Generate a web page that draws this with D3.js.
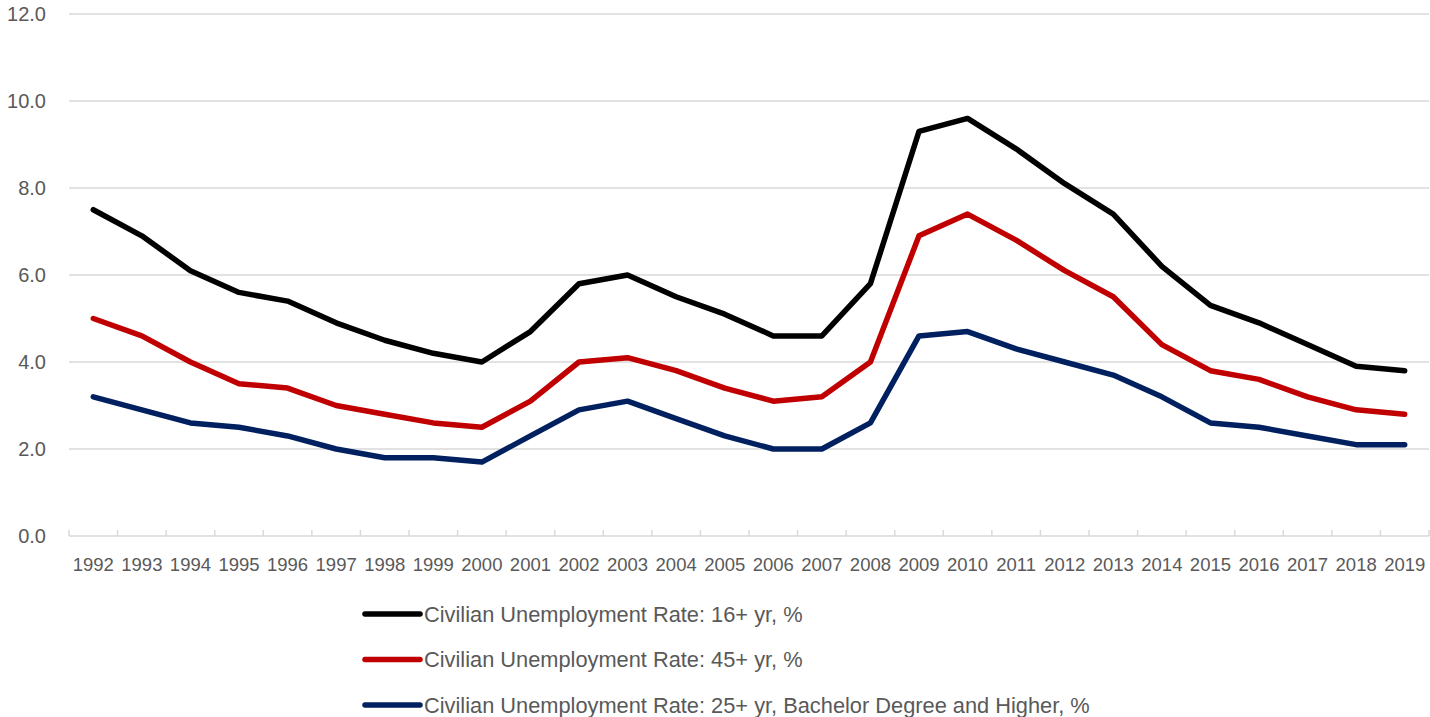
<!DOCTYPE html>
<html>
<head>
<meta charset="utf-8">
<script src="https://cdn.jsdelivr.net/npm/d3@7"></script>
<style>
  body { margin: 0; background: #fff; }
  text { font-family: "Liberation Sans", Arial, sans-serif; fill: #595959; }
</style>
</head>
<body>
<div id="chart"></div>
<script>
// Unemployment rates, 1992-2019
var years = ["1992","1993","1994","1995","1996","1997","1998","1999","2000","2001",
  "2002","2003","2004","2005","2006","2007","2008","2009","2010","2011",
  "2012","2013","2014","2015","2016","2017","2018","2019"];

var rate16 = [7.5, 6.9, 6.1, 5.6, 5.4, 4.9, 4.5, 4.2, 4.0, 4.7,
  5.8, 6.0, 5.5, 5.1, 4.6, 4.6, 5.8, 9.3, 9.6, 8.9,
  8.1, 7.4, 6.2, 5.3, 4.9, 4.4, 3.9, 3.8];

var rate45 = [5.0, 4.6, 4.0, 3.5, 3.4, 3.0, 2.8, 2.6, 2.5, 3.1,
  4.0, 4.1, 3.8, 3.4, 3.1, 3.2, 4.0, 6.9, 7.4, 6.8,
  6.1, 5.5, 4.4, 3.8, 3.6, 3.2, 2.9, 2.8];

var rateBach = [3.2, 2.9, 2.6, 2.5, 2.3, 2.0, 1.8, 1.8, 1.7, 2.3,
  2.9, 3.1, 2.7, 2.3, 2.0, 2.0, 2.6, 4.6, 4.7, 4.3,
  4.0, 3.7, 3.2, 2.6, 2.5, 2.3, 2.1, 2.1];

var seriesNames = ["Civilian Unemployment Rate: 16+ yr, %",
  "Civilian Unemployment Rate: 45+ yr, %",
  "Civilian Unemployment Rate: 25+ yr, Bachelor Degree and Higher, %"];
var seriesColors = ["#000000", "#c00000", "#002060"];
var yTicks = [0, 2, 4, 6, 8, 10, 12];

var W = 1430, H = 717;
var margin = { top: 14, right: 1, bottom: 181, left: 69 },
    width = W - margin.left - margin.right,
    height = H - margin.top - margin.bottom;

var svg = d3.select("#chart").append("svg")
    .attr("width", W).attr("height", H);
var g = svg.append("g")
    .attr("transform", "translate(" + margin.left + "," + margin.top + ")");

var x = d3.scaleBand().domain(years).range([0, width]);
var y = d3.scaleLinear().domain([0, 12]).range([height, 0]);

// gridlines
g.append("g").selectAll("line")
    .data(yTicks.filter(d => d > 0))
    .enter().append("line")
    .attr("x1", 0).attr("x2", width)
    .attr("y1", d => y(d)).attr("y2", d => y(d))
    .style("stroke", "#d9d9d9").style("stroke-width", 1.5);

// y labels
g.append("g").selectAll("text")
    .data(yTicks)
    .enter().append("text")
    .attr("x", -23)
    .attr("y", d => y(d))
    .attr("dy", "0.36em")
    .attr("text-anchor", "end")
    .style("font-size", "20px")
    .text(d => d.toFixed(1));

// x axis line + inside ticks
var xAxis = g.append("g").attr("transform", "translate(0," + height + ")");
xAxis.append("line")
    .attr("x1", 0).attr("x2", width)
    .style("stroke", "#d9d9d9").style("stroke-width", 1.5);
var bounds = years.map(d => x(d)).concat([width]);
xAxis.selectAll("line.tick")
    .data(bounds)
    .enter().append("line")
    .attr("class", "tick")
    .attr("x1", d => d).attr("x2", d => d)
    .attr("y1", 0).attr("y2", -6)
    .style("stroke", "#d9d9d9").style("stroke-width", 1.5);
xAxis.selectAll("text")
    .data(years)
    .enter().append("text")
    .attr("x", d => x(d) + x.bandwidth() / 2)
    .attr("y", 35)
    .attr("text-anchor", "middle")
    .style("font-size", "18.5px")
    .text(d => d);

// lines
var allSeries = [rate16, rate45, rateBach];
var line = d3.line()
    .x((d, i) => x(years[i]) + x.bandwidth() / 2)
    .y(d => y(d));

g.append("g").selectAll("path")
    .data(allSeries)
    .enter().append("path")
    .attr("d", d => line(d))
    .style("fill", "none")
    .style("stroke", (d, i) => seriesColors[i])
    .style("stroke-width", 5.5)
    .style("stroke-linecap", "round")
    .style("stroke-linejoin", "round");

// legend
var legend = svg.append("g").attr("transform", "translate(365,614)");
var items = legend.selectAll("g")
    .data(seriesNames)
    .enter().append("g")
    .attr("transform", (d, i) => "translate(0," + (i * 45.5) + ")");
items.append("line")
    .attr("x1", 0).attr("x2", 55)
    .style("stroke", (d, i) => seriesColors[i])
    .style("stroke-width", 5.5)
    .style("stroke-linecap", "round");
items.append("text")
    .attr("x", 59)
    .attr("dy", "0.36em")
    .style("font-size", "21.8px")
    .text(d => d);
</script>
</body>
</html>
